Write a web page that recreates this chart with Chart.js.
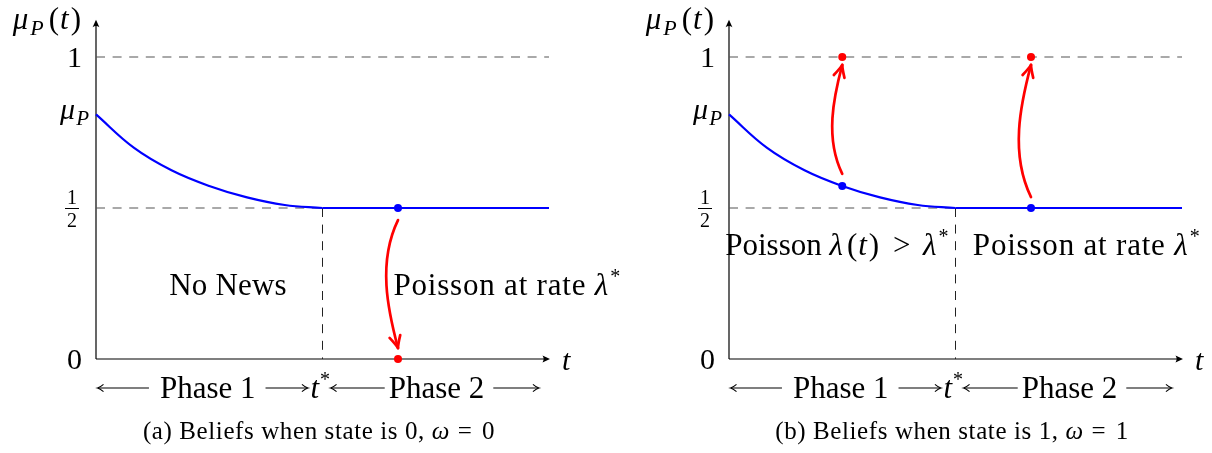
<!DOCTYPE html>
<html>
<head>
<meta charset="utf-8">
<script src="https://cdn.jsdelivr.net/npm/chart.js@4.4.1/dist/chart.umd.min.js"></script>
<style>
  html, body { margin: 0; padding: 0; background: #fff; }
  #wrap { position: relative; width: 1212px; height: 453px; background: #fff; overflow: hidden; }
  canvas { position: absolute; top: 0; }
</style>
</head>
<body>
<div id="wrap">
  <canvas id="cb" width="606" height="453" style="left:606px"></canvas>
  <canvas id="ca" width="650" height="453" style="left:0px"></canvas>
</div>
<script>
// ---------- data ----------
const CURVE_T  = [0, 0.5, 1, 1.5, 2, 2.5, 3];
const CURVE_MU = [0.81, 0.70, 0.625, 0.573, 0.535, 0.51, 0.5];
const FLAT_T   = [3, 6];
const FLAT_MU  = [0.5, 0.5];
const MU_P = 0.81;
const T_STAR = 3;
const T_MAX = 6;
const Y_TOP = 1.12;
const Y_TICK_VALUES = [0, 0.5, MU_P, 1];
const Y_TICK_LABELS = ['0', '1/2', 'μP', '1'];

// panel (a): state 0
const A_BLUE_T = [4];       const A_BLUE_MU = [0.5];
const A_RED_T  = [4];       const A_RED_MU  = [0];
const A_JUMP_FROM_T = [4];  const A_JUMP_FROM_MU = [0.46];
const A_JUMP_TO_T   = [4];  const A_JUMP_TO_MU   = [0.036];

// panel (b): state 1
const B_BLUE_T = [1.5, 4];  const B_BLUE_MU = [0.573, 0.5];
const B_RED_T  = [1.5, 4];  const B_RED_MU  = [1, 1];
const B_JUMP_FROM_T = [1.5, 4];   const B_JUMP_FROM_MU = [0.613, 0.536];
const B_JUMP_TO_T   = [1.5, 4];   const B_JUMP_TO_MU   = [0.974, 0.974];

const PHASE_LABELS  = ['Phase 1', 't*', 'Phase 2'];
const PHASE_CENTERS = [1.48, 2.97, 4.51];

// ---------- helpers ----------
const FAM = '"Liberation Serif", "Times New Roman", serif';
const R = s => `${s}px ${FAM}`;
const I = s => `italic ${s}px ${FAM}`;
const BLUE = '#0000ff', RED = '#ff0000';

function pts(xs, ys) { return xs.map((x, i) => ({x: x, y: ys[i]})); }

// part: [text, font, dy, extraAfter, letterSpacing]
function partWidth(ctx, p) {
  ctx.font = p[1]; ctx.letterSpacing = (p[4] || 0) + 'px';
  const w = ctx.measureText(p[0]).width + (p[3] || 0);
  ctx.letterSpacing = '0px';
  return w;
}
function runsWidth(ctx, parts) {
  let w = 0; for (const p of parts) w += partWidth(ctx, p); return w;
}
function drawRuns(ctx, parts, x, y, align) {
  const w = runsWidth(ctx, parts);
  let cx = align === 'right' ? x - w : (align === 'center' ? x - w / 2 : x);
  const left = cx;
  for (const p of parts) {
    const pw = partWidth(ctx, p);
    ctx.font = p[1]; ctx.letterSpacing = (p[4] || 0) + 'px';
    ctx.fillText(p[0], cx, y + (p[2] || 0));
    ctx.letterSpacing = '0px';
    cx += pw;
  }
  return {left: left, right: left + w};
}

function blackTip(ctx, x, y, ang) {
  ctx.save(); ctx.translate(x, y); ctx.rotate(ang);
  ctx.beginPath();
  ctx.moveTo(1, 0); ctx.lineTo(-6.5, -3.4);
  ctx.quadraticCurveTo(-4.2, 0, -6.5, 3.4);
  ctx.closePath(); ctx.fill();
  ctx.restore();
}

function thinTip(ctx, x, y, ang) {
  ctx.save(); ctx.translate(x, y); ctx.rotate(ang);
  ctx.beginPath();
  ctx.moveTo(-5.5, -3.6); ctx.quadraticCurveTo(-2, -0.6, 0.5, 0);
  ctx.quadraticCurveTo(-2, 0.6, -5.5, 3.6);
  ctx.stroke();
  ctx.restore();
}

function longArrow(ctx, x1, x2, y, headAtLeft) {
  ctx.beginPath(); ctx.moveTo(x1, y); ctx.lineTo(x2, y); ctx.stroke();
  if (headAtLeft) thinTip(ctx, x1, y, Math.PI); else thinTip(ctx, x2, y, 0);
}

function redJump(ctx, sx, sy, ex, ey) {
  const dx = ex - sx, dy = ey - sy;
  const len = Math.hypot(dx, dy);
  const ux = dx / len, uy = dy / len;
  let nx = -uy, ny = ux;
  if (nx > 0) { nx = -nx; ny = -ny; }
  const k1 = 0.16 * len, k2 = 0.08 * len;
  const c1x = sx + dx * 0.33 + nx * k1, c1y = sy + dy * 0.33 + ny * k1;
  const c2x = sx + dx * 0.70 + nx * k2, c2y = sy + dy * 0.70 + ny * k2;
  ctx.save();
  ctx.strokeStyle = RED; ctx.lineWidth = 2.7; ctx.lineCap = 'round'; ctx.lineJoin = 'round';
  ctx.beginPath(); ctx.moveTo(sx, sy);
  ctx.bezierCurveTo(c1x, c1y, c2x, c2y, ex, ey);
  ctx.stroke();
  const ang = Math.atan2(ey - c2y, ex - c2x);
  ctx.translate(ex, ey); ctx.rotate(ang);
  ctx.beginPath();
  ctx.moveTo(-12, -5.5); ctx.quadraticCurveTo(-4, -1.2, 0, 0);
  ctx.quadraticCurveTo(-4, 1.2, -12, 5.5);
  ctx.stroke();
  ctx.restore();
}

// ---------- panel builder ----------
function makePanel(canvasId, cfg) {
  const dash = [9, 7.6];
  const annot = {
    id: 'annot' + canvasId,
    beforeDatasetsDraw(chart) {
      const ctx = chart.ctx, xs = chart.scales.x, ys = chart.scales.y;
      const x0 = xs.getPixelForValue(0), y0 = ys.getPixelForValue(0);
      const xE = xs.getPixelForValue(T_MAX), yE = ys.getPixelForValue(Y_TOP);
      ctx.save();
      ctx.strokeStyle = '#000'; ctx.fillStyle = '#000'; ctx.lineWidth = 1.2;
      ctx.beginPath(); ctx.moveTo(x0, y0); ctx.lineTo(xE - 2, y0); ctx.stroke();
      ctx.beginPath(); ctx.moveTo(x0, y0); ctx.lineTo(x0, yE + 2); ctx.stroke();
      blackTip(ctx, xE, y0, 0);
      blackTip(ctx, x0, yE, -Math.PI / 2);
      ctx.restore();
    },
    afterDatasetsDraw(chart) {
      const ctx = chart.ctx, xs = chart.scales.x, ys = chart.scales.y;
      const px = v => xs.getPixelForValue(v), py = v => ys.getPixelForValue(v);
      const x0 = px(0), y0 = py(0);
      ctx.save();
      for (let i = 0; i < cfg.jumpFromT.length; i++) {
        redJump(ctx, px(cfg.jumpFromT[i]), py(cfg.jumpFromMu[i]), px(cfg.jumpToT[i]), py(cfg.jumpToMu[i]));
      }
      ctx.fillStyle = '#000'; ctx.strokeStyle = '#000';
      ctx.textBaseline = 'alphabetic';
      // y axis title
      drawRuns(ctx, [['μ', I(31), 0, 2], ['P', I(22), 6, 5], ['(', R(31), 0, 1], ['t', I(31), 0, 2], [')', R(31)]],
               x0 - 15, py(Y_TOP) + 8, 'right');
      // x axis title
      drawRuns(ctx, [['t', I(30)]], px(T_MAX) + 13, y0 + 11, 'left');
      // y tick labels
      Y_TICK_VALUES.forEach((v, i) => {
        const lab = Y_TICK_LABELS[i], y = py(v);
        if (lab === '1/2') {
          const cx = x0 - 24;
          ctx.font = R(20); ctx.textAlign = 'center';
          ctx.fillText('1', cx, y - 4);
          ctx.fillText('2', cx, y + 19);
          ctx.textAlign = 'left';
          ctx.lineWidth = 1;
          ctx.beginPath(); ctx.moveTo(cx - 7, y + 0.5); ctx.lineTo(cx + 7, y + 0.5); ctx.stroke();
        } else if (lab === 'μP') {
          drawRuns(ctx, [['μ', I(30), 0, 1], ['P', I(21), 6]], x0 - 7, y + 5, 'right');
        } else {
          drawRuns(ctx, [[lab, R(30)]], x0 - 14, y + 10, 'right');
        }
      });
      for (const tx of cfg.texts) {
        drawRuns(ctx, tx.parts, px(tx.x), py(tx.y), tx.align || 'left');
      }
      // phase row
      const by = y0 + 39, ay = by - 10;
      const parts = [
        [['Phase 1', R(31)]],
        [['t', I(31), 0, 1], ['*', R(20), -12]],
        [['Phase 2', R(31)]]
      ];
      const ext = parts.map((p, i) => {
        const w = runsWidth(ctx, p);
        const c = px(PHASE_CENTERS[i]);
        return {l: c - w / 2, r: c + w / 2, p: p};
      });
      ext.forEach(e => drawRuns(ctx, e.p, e.l, by, 'left'));
      ctx.lineWidth = 1.1;
      longArrow(ctx, x0 + 2, ext[0].l - 11, ay, true);
      longArrow(ctx, ext[0].r + 10, ext[1].l - 3, ay, false);
      longArrow(ctx, ext[1].r + 1, ext[2].l - 4, ay, true);
      longArrow(ctx, ext[2].r + 9, px(5.86), ay, false);
      // caption
      drawRuns(ctx, cfg.caption, px(2.95), y0 + 80, 'center');
      ctx.restore();
    }
  };

  const line = (data, extra) => Object.assign({
    data: data, showLine: true, pointRadius: 0, fill: false, clip: false,
    borderCapStyle: 'butt'
  }, extra);

  return new Chart(document.getElementById(canvasId), {
    type: 'scatter',
    data: {
      datasets: [
        line(pts([0, T_MAX], [1, 1]), {borderColor: '#555', borderWidth: 1.1, borderDash: dash, order: 6}),
        line(pts([0, T_STAR], [0.5, 0.5]), {borderColor: '#555', borderWidth: 1.1, borderDash: dash, order: 6}),
        line(pts([T_STAR, T_STAR], [0.5, 0]), {borderColor: '#222', borderWidth: 1, borderDash: dash, order: 6}),
        line(pts(CURVE_T, CURVE_MU), {borderColor: BLUE, borderWidth: 2.2, tension: 0.4, order: 3}),
        line(pts(FLAT_T, FLAT_MU), {borderColor: BLUE, borderWidth: 2.2, order: 3}),
        {data: pts(cfg.blueT, cfg.blueMu), showLine: false, pointRadius: 4, pointBackgroundColor: BLUE,
         pointBorderWidth: 0, clip: false, order: 1},
        {data: pts(cfg.redT, cfg.redMu), showLine: false, pointRadius: 4, pointBackgroundColor: RED,
         pointBorderWidth: 0, clip: false, order: 0}
      ]
    },
    options: {
      responsive: false, animation: false, events: [],
      layout: {padding: cfg.padding},
      plugins: {legend: {display: false}, tooltip: {enabled: false}, title: {display: false}},
      scales: {
        x: {type: 'linear', min: 0, max: T_MAX, display: false},
        y: {type: 'linear', min: 0, max: Y_TOP, display: false}
      }
    },
    plugins: [annot]
  });
}

const LAM_AT_RATE = [['Poisson at rate ', R(31), 0, 0, 0.8], ['λ', I(31), 0, 2], ['*', R(20), -12]];

makePanel('ca', {
  padding: {left: 96, right: 101, top: 20.76, bottom: 94},
  blueT: A_BLUE_T, blueMu: A_BLUE_MU, redT: A_RED_T, redMu: A_RED_MU,
  jumpFromT: A_JUMP_FROM_T, jumpFromMu: A_JUMP_FROM_MU, jumpToT: A_JUMP_TO_T, jumpToMu: A_JUMP_TO_MU,
  texts: [
    {x: 0.97, y: 0.212, parts: [['No News', R(31), 0, 0, 0.2]]},
    {x: 3.94, y: 0.212, parts: LAM_AT_RATE}
  ],
  caption: [['(a) Beliefs when state is 0, ', R(25), 0, 0, 0.6], ['ω', I(25), 0, 2], [' = ', R(25), 0, 4], ['0', R(25)]]
});

makePanel('cb', {
  padding: {left: 123, right: 30, top: 20.76, bottom: 94},
  blueT: B_BLUE_T, blueMu: B_BLUE_MU, redT: B_RED_T, redMu: B_RED_MU,
  jumpFromT: B_JUMP_FROM_T, jumpFromMu: B_JUMP_FROM_MU, jumpToT: B_JUMP_TO_T, jumpToMu: B_JUMP_TO_MU,
  texts: [
    {x: -0.05, y: 0.344, parts: [['Poisson ', R(31)], ['λ', I(31), 0, 4], ['(', R(31), 0, 1], ['t', I(31), 0, 2], [')', R(31)],
                                 [' ', R(31), 0, 6], ['>', R(31)], [' ', R(31), 0, 5], ['λ', I(31), 0, 2], ['*', R(20), -12]]},
    {x: 3.23, y: 0.344, parts: LAM_AT_RATE}
  ],
  caption: [['(b) Beliefs when state is 1, ', R(25), 0, 0, 0.6], ['ω', I(25), 0, 2], [' = ', R(25), 0, 4], ['1', R(25)]]
});
</script>
</body>
</html>
